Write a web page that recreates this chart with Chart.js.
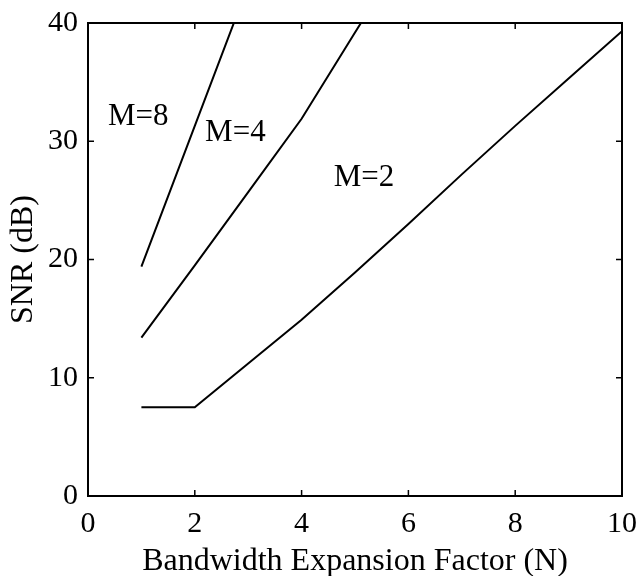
<!DOCTYPE html>
<html>
<head>
<meta charset="utf-8">
<script src="https://cdn.jsdelivr.net/npm/chart.js@4.4.1/dist/chart.umd.min.js"></script>
<style>
  html, body { margin: 0; padding: 0; background: #fff; }
  #wrap { width: 638px; height: 576px; }
</style>
</head>
<body>
<div id="wrap"><canvas id="snrChart"></canvas></div>
<script>
// Bandwidth expansion factor N and SNR (dB)
const nValues = [1, 2, 3, 4, 5, 6, 7, 8, 9, 10];
const snrM2 = [7.5, 7.5, 11.2, 14.9, 18.9, 23.0, 27.2, 31.3, 35.3, 39.3];
const nValuesM4 = [1, 2, 3, 4, 5, 6];
const snrM4 = [13.4, 19.5, 25.7, 31.9, 39.2, 46.4];
const nValuesM8 = [1, 2, 3];
const snrM8 = [19.4, 31.3, 43.2];

const xTicks = [0, 2, 4, 6, 8, 10];
const yTicks = [0, 10, 20, 30, 40];

// curve labels, placed in data coordinates
const curveLabels = ['M=8', 'M=4', 'M=2'];
const curveLabelX = [0.94, 2.76, 5.17];
const curveLabelY = [32.1, 30.7, 26.9];

const serif = '"Liberation Serif", "DejaVu Serif", serif';

function toPoints(xs, ys) {
    return xs.map((x, i) => ({ x: x, y: ys[i] }));
}

// frame, inward ticks and curve labels
const framePlugin = {
    id: 'frame',
    afterDraw(chart) {
        const ctx = chart.ctx;
        const area = chart.chartArea;
        const xs = chart.scales.x;
        const ys = chart.scales.y;
        ctx.save();
        ctx.strokeStyle = '#000';
        ctx.lineWidth = 2;
        ctx.strokeRect(area.left, area.top, area.right - area.left, area.bottom - area.top);

        ctx.lineWidth = 1.5;
        ctx.beginPath();
        xTicks.forEach(v => {
            const px = xs.getPixelForValue(v);
            ctx.moveTo(px, area.bottom);
            ctx.lineTo(px, area.bottom - 6);
            ctx.moveTo(px, area.top);
            ctx.lineTo(px, area.top + 6);
        });
        yTicks.forEach(v => {
            const py = ys.getPixelForValue(v);
            ctx.moveTo(area.left, py);
            ctx.lineTo(area.left + 6, py);
            ctx.moveTo(area.right, py);
            ctx.lineTo(area.right - 6, py);
        });
        ctx.stroke();

        ctx.fillStyle = '#000';
        ctx.font = '31px ' + serif;
        ctx.textAlign = 'center';
        ctx.textBaseline = 'middle';
        curveLabels.forEach((t, i) => {
            ctx.fillText(t, xs.getPixelForValue(curveLabelX[i]), ys.getPixelForValue(curveLabelY[i]));
        });
        ctx.restore();
    }
};

const lineStyle = {
    borderColor: '#000',
    borderWidth: 2,
    pointRadius: 0,
    fill: false,
    tension: 0
};

new Chart(document.getElementById('snrChart'), {
    type: 'line',
    data: {
        datasets: [
            Object.assign({ label: 'M=2', data: toPoints(nValues, snrM2) }, lineStyle),
            Object.assign({ label: 'M=4', data: toPoints(nValuesM4, snrM4) }, lineStyle),
            Object.assign({ label: 'M=8', data: toPoints(nValuesM8, snrM8) }, lineStyle)
        ]
    },
    options: {
        responsive: true,
        maintainAspectRatio: false,
        animation: false,
        events: [],
        layout: { padding: { top: 23, right: 16, left: 0, bottom: 0 } },
        plugins: {
            legend: { display: false },
            tooltip: { enabled: false }
        },
        scales: {
            x: {
                type: 'linear',
                min: 0,
                max: 10,
                afterFit: s => { s.height = 80; s.paddingLeft = 0; s.paddingRight = 0; },
                afterBuildTicks: s => { s.ticks = xTicks.map(v => ({ value: v })); },
                grid: { display: false, drawTicks: false },
                border: { display: false },
                ticks: { color: '#000', padding: 10, font: { family: serif, size: 30 } },
                title: {
                    display: true,
                    text: 'Bandwidth Expansion Factor (N)',
                    color: '#000',
                    padding: { top: 0, bottom: -2 },
                    font: { family: serif, size: 32, lineHeight: 1 }
                }
            },
            y: {
                min: 0,
                max: 40,
                afterFit: s => { s.width = 88; s.paddingTop = 0; s.paddingBottom = 0; },
                afterBuildTicks: s => { s.ticks = yTicks.map(v => ({ value: v })); },
                grid: { display: false, drawTicks: false },
                border: { display: false },
                ticks: { color: '#000', padding: 10, font: { family: serif, size: 30 } },
                title: {
                    display: true,
                    text: 'SNR (dB)',
                    color: '#000',
                    padding: { top: 8, bottom: 0 },
                    font: { family: serif, size: 32, lineHeight: 1 }
                }
            }
        }
    },
    plugins: [framePlugin]
});
</script>
</body>
</html>
